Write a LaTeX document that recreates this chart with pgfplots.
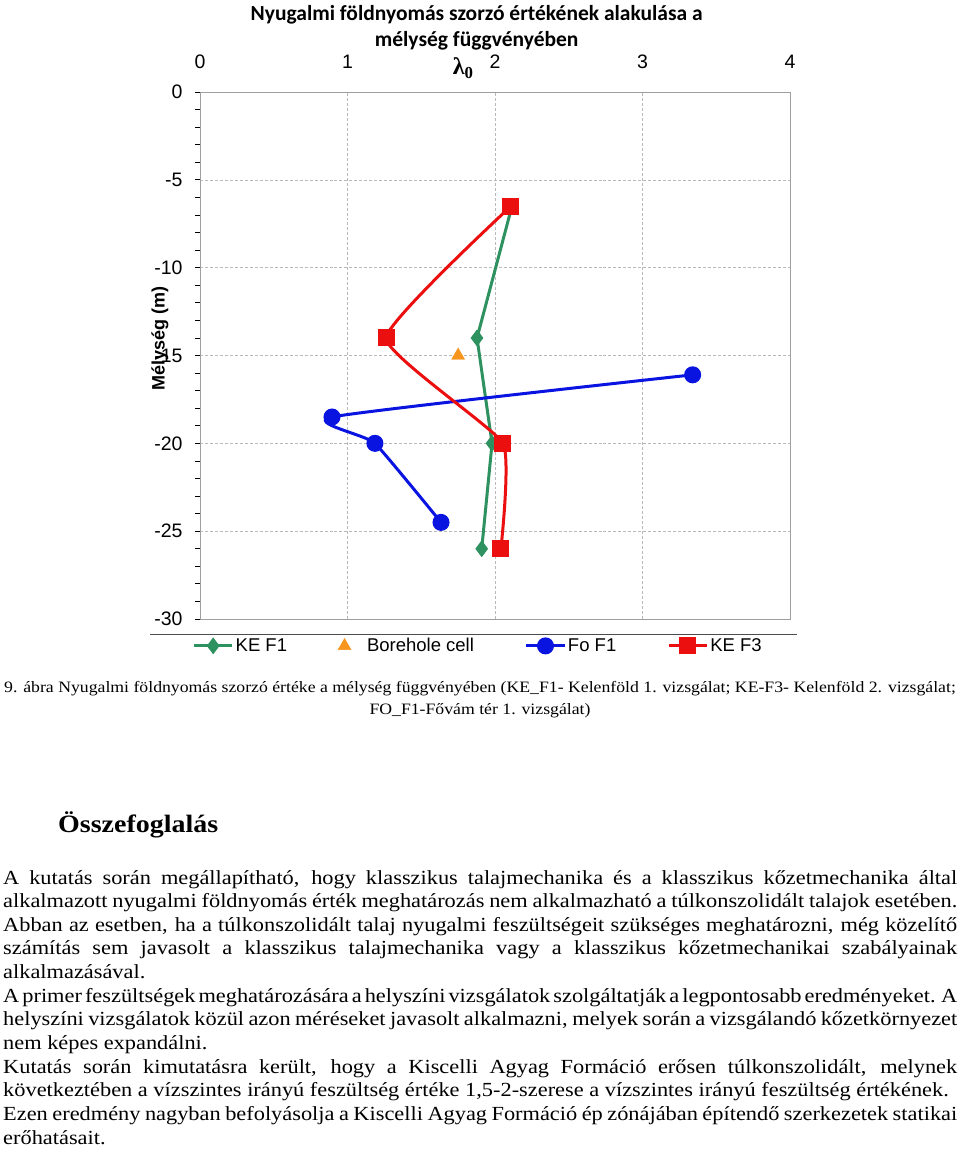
\documentclass[border=0pt]{standalone}
\usepackage{fontspec}
\setmainfont{Liberation Serif}
\newfontfamily\arial{Liberation Sans}
\newfontfamily\calibri{Carlito}
\usepackage{pgfplots}
\pgfplotsset{compat=1.18}
\pgfplotsset{every axis plot post/.append style={legend image code/.code={\draw[mark repeat=2,mark phase=2,##1] plot coordinates {(0bp,0bp) (19bp,0bp) (38bp,0bp)};}}}
\definecolor{keg}{RGB}{46,145,96}
\definecolor{fob}{RGB}{10,20,225}
\definecolor{ker}{RGB}{235,15,15}
\definecolor{boh}{RGB}{247,150,30}
\newcommand\body{\fontsize{20bp}{24bp}\selectfont}
\newcommand\jl[1]{\makebox[853.3bp][s]{\spaceskip=0.12em plus 1fil\relax #1}}
\begin{document}
\begin{tikzpicture}
\path[use as bounding box] (0,0) rectangle (960bp,-1150bp);
\begin{axis}[
  at={(200bp,-92bp)}, anchor=north west,
  scale only axis, width=590bp, height=527bp,
  xmin=0, xmax=4, ymin=-30, ymax=0,
  xtick={0,1,2,3,4}, ytick={-30,-25,...,0},
  minor y tick num=4,
  xticklabel pos=right, xtick pos=right, ytick pos=left,
  x tick style={draw=none},
  y tick style={black, line width=0.8bp},
  tick align=outside, major tick length=5bp, minor tick length=5bp,
  grid=major, grid style={densely dashed, gray!55},
  axis line style={gray!75, line width=1bp},
  /pgf/number format/assume math mode=true,
  tick label style={font=\arial\fontsize{19.5bp}{24bp}\selectfont},
  xticklabel style={yshift=15bp},
  yticklabel style={xshift=-9bp},
  title={Nyugalmi földnyomás szorzó értékének alakulása a\\mélység függvényében},
  title style={at={(axis description cs:0.469,1.11)}, anchor=center, align=center,
    font=\calibri\bfseries\fontsize{21.5bp}{26bp}\selectfont},
  xlabel={λ\textsubscript{0}},
  xlabel style={at={(axis description cs:0.446,1.0455)}, anchor=center, font=\bfseries\fontsize{24bp}{24bp}\selectfont},
  ylabel={Mélység (m)},
  ylabel style={at={(axis description cs:-0.068,0.533)}, anchor=center, rotate=0,
    font=\arial\bfseries\fontsize{18bp}{18bp}\selectfont},
  legend columns=4,
  legend style={at={(axis description cs:0.4715,-0.051)}, anchor=center, draw=none, fill=none,
    font=\arial\fontsize{18.5bp}{20bp}\selectfont,
    /tikz/every even column/.append style={column sep=49bp}},
]
\addplot[keg, line width=3bp, mark=diamond*, mark size=6bp, mark options={solid}] coordinates {
 (2.115,-6.5) (1.878,-14) (1.98,-20) (1.91,-26)};
\addlegendentry{KE F1\hspace{14bp}}
\addplot[only marks, boh, mark=triangle*, mark size=7.5bp] coordinates {(1.75,-15)};
\addlegendentry{\hspace{14bp}Borehole cell}
\addplot[fob, line width=3bp, smooth, tension=0.3, mark=*, mark size=7bp] coordinates {
 (3.34,-16.1) (0.895,-18.5) (1.186,-20) (1.634,-24.5)};
\addlegendentry{Fo F1\hspace{-4bp}}
\addplot[ker, line width=3bp, smooth, tension=0.25, mark=square*, mark size=7bp] coordinates {
 (2.108,-6.5) (1.261,-14) (2.054,-20) (2.04,-26)};
\addlegendentry{KE F3}
\end{axis}
\draw[gray!60!black, line width=1bp] (150bp,-634bp) -- (797bp,-634bp);
\begin{scope}[every node/.style={inner sep=0, xscale=1.118, transform shape}]
\node[anchor=base] at (480bp,-692bp) {\fontsize{15.85bp}{20bp}\selectfont 9. ábra Nyugalmi földnyomás szorzó értéke a mélység függvényében (KE\_F1- Kelenföld 1. vizsgálat; KE-F3- Kelenföld 2. vizsgálat;};
\node[anchor=base] at (480bp,-714bp) {\fontsize{15.85bp}{20bp}\selectfont FO\_F1-Fővám tér 1. vizsgálat)};
\node[anchor=base west] at (58bp,-832bp) {\fontsize{25bp}{30bp}\selectfont\bfseries Összefoglalás};
\end{scope}
\begin{scope}[every node/.style={anchor=base west, inner sep=0, font=\body, xscale=1.118, transform shape}]
\node at (3bp,-884.0bp) {\jl{A kutatás során megállapítható, hogy klasszikus talajmechanika és a klasszikus kőzetmechanika által}};
\node at (3bp,-907.6bp) {\jl{alkalmazott nyugalmi földnyomás érték meghatározás nem alkalmazható a túlkonszolidált talajok esetében.}};
\node at (3bp,-931.3bp) {\jl{Abban az esetben, ha a túlkonszolidált talaj nyugalmi feszültségeit szükséges meghatározni, még közelítő}};
\node at (3bp,-954.9bp) {\jl{számítás sem javasolt a klasszikus talajmechanika vagy a klasszikus kőzetmechanikai szabályainak}};
\node at (3bp,-978.6bp) {alkalmazásával.};
\node at (3bp,-1002.2bp) {\jl{A primer feszültségek meghatározására a helyszíni vizsgálatok szolgáltatják a legpontosabb eredményeket. A}};
\node at (3bp,-1025.8bp) {\jl{helyszíni vizsgálatok közül azon méréseket javasolt alkalmazni, melyek során a vizsgálandó kőzetkörnyezet}};
\node at (3bp,-1049.5bp) {nem képes expandálni.};
\node at (3bp,-1073.1bp) {\jl{Kutatás során kimutatásra került, hogy a Kiscelli Agyag Formáció erősen túlkonszolidált, melynek}};
\node at (3bp,-1096.8bp) {következtében a vízszintes irányú feszültség értéke 1,5-2-szerese a vízszintes irányú feszültség értékének.};
\node at (3bp,-1120.4bp) {\jl{Ezen eredmény nagyban befolyásolja a Kiscelli Agyag Formáció ép zónájában építendő szerkezetek statikai}};
\node at (3bp,-1144.0bp) {erőhatásait.};
\end{scope}
\end{tikzpicture}
\end{document}
